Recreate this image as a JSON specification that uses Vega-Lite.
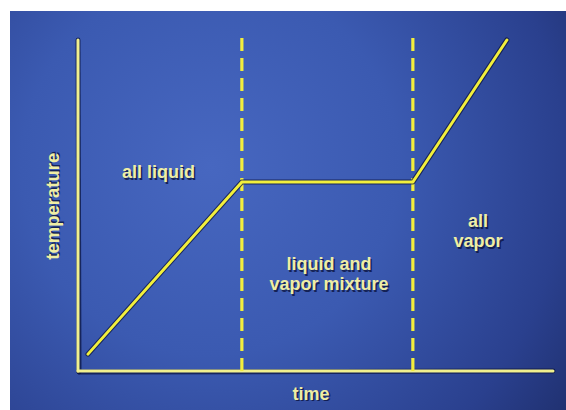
{
  "$schema": "https://vega.github.io/schema/vega-lite/v6.json",
  "width": 566,
  "height": 410,
  "autosize": {"type": "fit", "contains": "padding"},
  "padding": {"left": 10, "top": 11, "right": 0, "bottom": 0},
  "background": "white",
  "config": {"view": {"stroke": null}},
  "datasets": {
    "curve": [
      {"time": 0.21, "temp": 5.1},
      {"time": 3.45, "temp": 57.1},
      {"time": 7.05, "temp": 57.1},
      {"time": 9.03, "temp": 100}
    ],
    "axes": [
      {"time": 0, "temp": 0, "time2": 10, "temp2": 0},
      {"time": 0, "temp": 0, "time2": 0, "temp2": 100}
    ],
    "phases": [
      {"time": 3.45, "temp": 0, "temp2": 101.5},
      {"time": 7.05, "temp": 0, "temp2": 101.5}
    ],
    "labels": [
      {"time": 1.695, "temp": 59.8, "text": "all liquid"},
      {"time": 5.284, "temp": 32.0, "text": "liquid and\nvapor mixture"},
      {"time": 8.42, "temp": 44.9, "text": "all\nvapor"},
      {"time": 4.905, "temp": -7.2, "text": "time"}
    ],
    "ylabel": [
      {"time": -0.53, "temp": 49.8, "text": "temperature"}
    ],
    "panel": [
      {"name": "backdrop"}
    ]
  },
  "resolve": {"scale": {"x": "shared", "y": "shared"}},
  "layer": [
    {
      "data": {"name": "panel"},
      "mark": {"type": "rect", "color": "#3552a6"},
      "encoding": {}
    },
    {
      "data": {"name": "panel"},
      "mark": {
        "type": "rect",
        "color": {
          "gradient": "radial",
          "x1": 0.36, "y1": 0.42, "r1": 0,
          "x2": 0.36, "y2": 0.42, "r2": 0.85,
          "stops": [
            {"offset": 0, "color": "#4767c0"},
            {"offset": 0.4, "color": "#3b5ab1"},
            {"offset": 0.75, "color": "#2a408e"},
            {"offset": 1, "color": "#1b2962"}
          ]
        }
      },
      "encoding": {}
    },
    {
      "data": {"name": "axes"},
      "mark": {"type": "rule", "stroke": "#0b1440", "strokeWidth": 5, "opacity": 0.75, "strokeCap": "round"},
      "encoding": {
        "x": {"field": "time", "type": "quantitative", "scale": {"domain": [-1.4316, 10.274], "nice": false, "zero": false}, "axis": null},
        "y": {"field": "temp", "type": "quantitative", "scale": {"domain": [-11.78, 108.76], "nice": false, "zero": false}, "axis": null},
        "x2": {"field": "time2"}, "y2": {"field": "temp2"}, "xOffset": {"value": 1}, "yOffset": {"value": 1}
      }
    },
    {
      "data": {"name": "axes"},
      "mark": {"type": "rule", "stroke": "#f1f08e", "strokeWidth": 3, "strokeCap": "round"},
      "encoding": {
        "x": {"field": "time", "type": "quantitative"},
        "y": {"field": "temp", "type": "quantitative"},
        "x2": {"field": "time2"}, "y2": {"field": "temp2"}
      }
    },
    {
      "data": {"name": "phases"},
      "mark": {"type": "rule", "stroke": "#f3ee3c", "strokeWidth": 3.2, "strokeDash": [13, 7]},
      "encoding": {
        "x": {"field": "time", "type": "quantitative"},
        "y": {"field": "temp", "type": "quantitative"},
        "y2": {"field": "temp2"}
      }
    },
    {
      "data": {"name": "curve"},
      "mark": {"type": "line", "stroke": "#0b1440", "strokeWidth": 5, "opacity": 0.75, "strokeCap": "round", "strokeJoin": "round"},
      "encoding": {
        "x": {"field": "time", "type": "quantitative"},
        "y": {"field": "temp", "type": "quantitative"},
        "order": {"field": "time"}
      }
    },
    {
      "data": {"name": "curve"},
      "mark": {"type": "line", "stroke": "#f2ef3c", "strokeWidth": 3, "strokeCap": "round", "strokeJoin": "round"},
      "encoding": {
        "x": {"field": "time", "type": "quantitative"},
        "y": {"field": "temp", "type": "quantitative"},
        "order": {"field": "time"}
      }
    },
    {
      "data": {"name": "labels"},
      "mark": {"type": "text", "font": "Liberation Sans", "fontWeight": "bold", "fontSize": 18, "lineBreak": "\n", "lineHeight": 20, "baseline": "middle", "align": "center", "fill": "#0b1440", "opacity": 0.8, "dx": 1.5, "dy": 1.5},
      "encoding": {
        "x": {"field": "time", "type": "quantitative"},
        "y": {"field": "temp", "type": "quantitative"},
        "text": {"field": "text"}
      }
    },
    {
      "data": {"name": "labels"},
      "mark": {"type": "text", "font": "Liberation Sans", "fontWeight": "bold", "fontSize": 18, "lineBreak": "\n", "lineHeight": 20, "baseline": "middle", "align": "center", "fill": "#efeea4"},
      "encoding": {
        "x": {"field": "time", "type": "quantitative"},
        "y": {"field": "temp", "type": "quantitative"},
        "text": {"field": "text"}
      }
    },
    {
      "data": {"name": "ylabel"},
      "mark": {"type": "text", "font": "Liberation Sans", "fontWeight": "bold", "fontSize": 18.5, "angle": 270, "baseline": "middle", "align": "center", "fill": "#0b1440", "opacity": 0.8, "dx": 1.5, "dy": 1.5},
      "encoding": {
        "x": {"field": "time", "type": "quantitative"},
        "y": {"field": "temp", "type": "quantitative"},
        "text": {"field": "text"}
      }
    },
    {
      "data": {"name": "ylabel"},
      "mark": {"type": "text", "font": "Liberation Sans", "fontWeight": "bold", "fontSize": 18.5, "angle": 270, "baseline": "middle", "align": "center", "fill": "#efeea4"},
      "encoding": {
        "x": {"field": "time", "type": "quantitative"},
        "y": {"field": "temp", "type": "quantitative"},
        "text": {"field": "text"}
      }
    }
  ]
}
